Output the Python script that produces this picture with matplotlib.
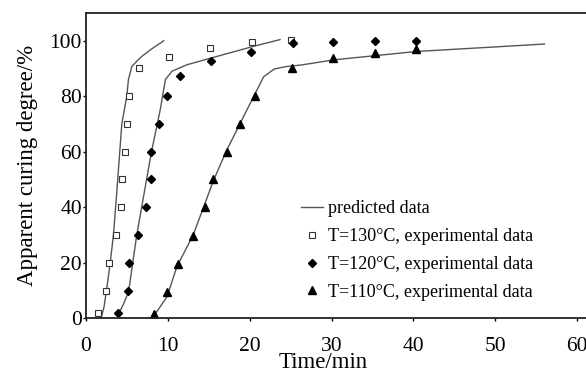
# Apparent curing degree vs time at three temperatures

import matplotlib
matplotlib.use("Agg")
import matplotlib.pyplot as plt

plt.rcParams['font.family'] = ['Liberation Serif', 'DejaVu Serif']

# experimental data
t130 = [1.5, 2.5, 2.85, 3.65, 4.25, 4.35, 4.75, 5.0, 5.25, 6.5, 10.1, 15.1, 20.3, 25.1]
c130 = [1.7, 9.7, 20, 30, 40, 50, 60, 70, 80, 90, 94.3, 97.4, 99.4, 100.4]

t120 = [3.9, 5.15, 5.3, 6.3, 7.3, 7.95, 7.9, 8.9, 9.9, 11.5, 15.3, 20.2, 25.3, 30.2, 35.3, 40.3]
c120 = [1.7, 9.7, 20, 30, 40, 50, 60, 70, 80, 87.2, 92.8, 96, 99.2, 99.4, 99.8, 100]

t110 = [8.25, 9.9, 11.2, 13.05, 14.5, 15.5, 17.2, 18.8, 20.7, 25.2, 30.2, 35.3, 40.3]
c110 = [1.4, 9.5, 19.6, 29.7, 40, 50, 60, 70, 80, 90, 93.9, 95.6, 97]

# predicted curves
p130_t = [1.85, 2.2, 2.6, 3.0, 3.35, 3.75, 4.37, 4.98, 5.18, 5.6, 6.2, 6.8, 8.0, 9.5]
p130_c = [0, 4, 12, 21, 30, 45, 70, 80, 86, 90.7, 92.6, 94.3, 97, 100]

p120_t = [3.96, 4.5, 5.2, 6.2, 7.4, 8.0, 9.06, 9.7, 10.5, 12.3, 15.2, 20.5, 23.7]
p120_c = [1.5, 4.5, 9.5, 30, 50, 60, 75, 86, 89, 91.3, 93.7, 98, 100.4]

p110_t = [8.24, 9.9, 11.1, 13.1, 15.6, 17.2, 18.85, 20.5, 21.7, 23.0, 24.5, 26.2, 30.3, 40.3, 56.0]
p110_c = [0.5, 7.7, 18.5, 30, 49.8, 60.6, 70.3, 80, 87, 89.8, 90.7, 91.2, 93.1, 96.1, 98.8]

fig = plt.figure(figsize=(5.86, 3.72), dpi=100)
ax = fig.add_axes([0.1468, 0.1452, 0.866, 0.8199])

line_col = '#555555'
ax.plot(p130_t, p130_c, color=line_col, lw=1.0, label='predicted data')
ax.plot(p120_t, p120_c, color=line_col, lw=1.0)
ax.plot(p110_t, p110_c, color=line_col, lw=1.0)

ax.plot(t130, c130, ls='none', marker='s', ms=4.5, mfc='white', mec='#333333', mew=0.8,
        label='T=130°C, experimental data')
ax.plot(t120, c120, ls='none', marker='D', ms=4, color='black',
        label='T=120°C, experimental data')
ax.plot(t110, c110, ls='none', marker='^', ms=5.5, color='black',
        label='T=110°C, experimental data')

ax.set_xlim(0, 62)
ax.set_ylim(0, 110)
ax.set_xticks(range(0, 61, 10))
ax.set_yticks(range(0, 101, 20))
ax.tick_params(labelsize=15.5, length=2.5, width=1)
ax.tick_params(axis='y', pad=0.5)
ax.tick_params(axis='x', pad=11)
ax.spines['right'].set_visible(False)
for s in ['top', 'left', 'bottom']:
    ax.spines[s].set_linewidth(1.3)
    ax.spines[s].set_color('#222222')

ax.set_xlabel('Time/min', fontsize=16.5)
ax.xaxis.set_label_coords(0.467, -0.112)
ax.set_ylabel('Apparent curing degree/%', fontsize=16.5, labelpad=8)

ax.legend(loc='upper left', bbox_to_anchor=(0.41, 0.41), frameon=False, fontsize=13,
          handlelength=1.2, handletextpad=0.3, labelspacing=0.6, borderaxespad=0)

fig.savefig('out.png', dpi=100)
